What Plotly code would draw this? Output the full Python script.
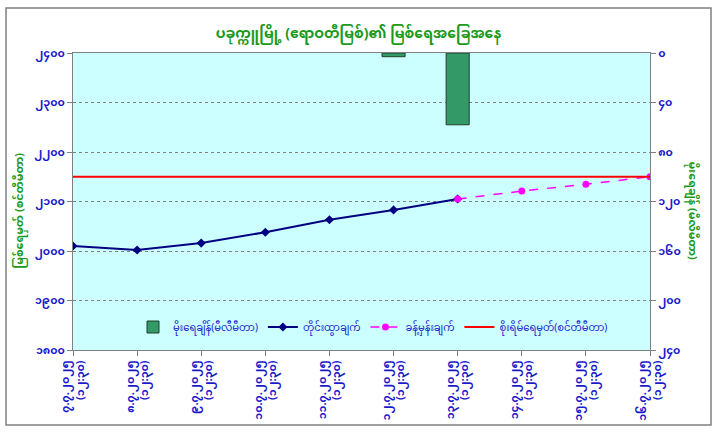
import plotly.graph_objects as go

# ---------------- data ----------------
dates = ["၇.၇.၂၀၂၅", "၈.၇.၂၀၂၅", "၉.၇.၂၀၂၅", "၁၀.၇.၂၀၂၅", "၁၁.၇.၂၀၂၅",
         "၁၂.၇.၂၀၂၅", "၁၃.၇.၂၀၂၅", "၁၄.၇.၂၀၂၅", "၁၅.၇.၂၀၂၅", "၁၆.၇.၂၀၂၅"]
time_label = "(၁၂:၃၀)"
categories = ["<b>" + d + "<br>" + time_label + "</b>" for d in dates]

rainfall = [None, None, None, None, None, 3, 58, None, None, None]          # mm (right axis, reversed)
observed = [2010, 2002, 2016, 2038, 2063, 2083, 2105, None, None, None]  # cm
forecast = [None, None, None, None, None, None, 2105, 2121, 2135, 2150]  # cm
danger = [2150, 2150, 2150, 2150, 2150, 2150, 2150, 2150, 2150, 2150]   # cm

left_ticks = [1800, 1900, 2000, 2100, 2200, 2300, 2400]
left_ticktext = ["၁၈၀၀", "၁၉၀၀", "၂၀၀၀", "၂၁၀၀", "၂၂၀၀", "၂၃၀၀", "၂၄၀၀"]
right_ticks = [0, 40, 80, 120, 160, 200, 240]
right_ticktext = ["၀", "၄၀", "၈၀", "၁၂၀", "၁၆၀", "၂၀၀", "၂၄၀"]

title_text = "ပခုက္ကူမြို့ (ဧရာဝတီမြစ်)၏ မြစ်ရေအခြေအနေ"
left_title = "မြစ်ရေမှတ် (စင်တီမီတာ)"
right_title = "မိုးရေချိန် (မီလီမီတာ)"
names = ["မိုးရေချိန်(မီလီမီတာ)", "တိုင်းထွာချက်", "ခန့်မှန်းချက်", "စိုးရိမ်ရေမှတ်(စင်တီမီတာ)"]

BLUE = "#1a1acc"
GREEN = "#1a9a1a"
FONT = "Noto Sans Myanmar, Padauk, Myanmar Text, Noto Sans, DejaVu Sans, sans-serif"

fig = go.Figure()
fig.add_trace(go.Bar(x=categories, y=rainfall, name=names[0], yaxis="y2",
                     marker=dict(color="#339966", line=dict(color="#1f3f2a", width=1))))
fig.add_trace(go.Scatter(x=categories, y=observed, name=names[1], mode="lines+markers",
                         line=dict(color="#000080", width=2),
                         marker=dict(symbol="diamond", size=7, color="#000080")))
fig.add_trace(go.Scatter(x=categories, y=forecast, name=names[2], mode="lines+markers",
                         line=dict(color="#ff00ff", width=1.5, dash="dash"),
                         marker=dict(symbol="circle", size=7, color="#ff00ff")))
fig.add_trace(go.Scatter(x=categories, y=danger, name=names[3], mode="lines",
                         line=dict(color="#ff0000", width=2)))

L, R, T, B = 73, 67, 53, 85
W, H = 717, 435
pw, ph = W - L - R, H - T - B

fig.update_layout(
    width=W, height=H,
    margin=dict(l=L, r=R, t=T, b=B, autoexpand=False),
    paper_bgcolor="white",
    plot_bgcolor="#ccffff",
    font=dict(family=FONT, color=BLUE, size=11),
    title=dict(text="<b>" + title_text + "</b>", x=0.5, xanchor="center",
               y=1 - 33 / H, yanchor="middle",
               font=dict(size=14, color=GREEN, family=FONT)),
    bargap=0.64,
    showlegend=True,
    legend=dict(orientation="h", x=(373 - L) / pw, xanchor="center",
                y=(350 - 327) / ph, yanchor="middle",
                bgcolor="rgba(0,0,0,0)", font=dict(size=10, color=BLUE, family=FONT),
                itemwidth=30, traceorder="normal"),
    xaxis=dict(type="category", range=[0, 9], tickangle=-90, automargin=False,
               tickfont=dict(size=11, color=BLUE, family=FONT),
               showline=True, linecolor="#808080", linewidth=1, mirror=True,
               ticks="outside", ticklen=5, tickcolor="#808080",
               showgrid=False, zeroline=False),
    yaxis=dict(range=[1800, 2400], tickvals=left_ticks,
               ticktext=["<b>" + t + "</b>" for t in left_ticktext],
               automargin=False,
               tickfont=dict(size=11, color=BLUE, family=FONT),
               showline=True, linecolor="#808080", linewidth=1,
               ticks="outside", ticklen=5, tickcolor="#808080",
               showgrid=True, gridcolor="#808080", gridwidth=1, griddash="dot",
               zeroline=False),
    yaxis2=dict(range=[240, 0], tickvals=right_ticks,
                ticktext=["<b>" + t + "</b>" for t in right_ticktext],
                overlaying="y", side="right", automargin=False,
                tickfont=dict(size=11, color=BLUE, family=FONT),
                showline=True, linecolor="#808080", linewidth=1,
                ticks="outside", ticklen=5, tickcolor="#808080",
                showgrid=False, zeroline=False),
)

fig.add_annotation(text="<b>" + left_title + "</b>", xref="paper", yref="paper",
                   x=(20 - L) / pw, y=0.47, xanchor="center", yanchor="middle",
                   textangle=-90, showarrow=False,
                   font=dict(size=11, color=GREEN, family=FONT))
fig.add_annotation(text="<b>" + right_title + "</b>", xref="paper", yref="paper",
                   x=(692 - L) / pw, y=0.47, xanchor="center", yanchor="middle",
                   textangle=90, showarrow=False,
                   font=dict(size=11, color=GREEN, family=FONT))

# outer chart border
fig.add_shape(type="rect", xref="paper", yref="paper",
              x0=(6 - L) / pw, x1=(711 - L) / pw,
              y0=(H - B - 425) / ph, y1=(H - B - 8) / ph,
              line=dict(color="#808080", width=1.5), fillcolor="rgba(0,0,0,0)", layer="below")

fig.write_html("out.html", config={"displayModeBar": False},
               post_script="document.body.style.margin='0';")
